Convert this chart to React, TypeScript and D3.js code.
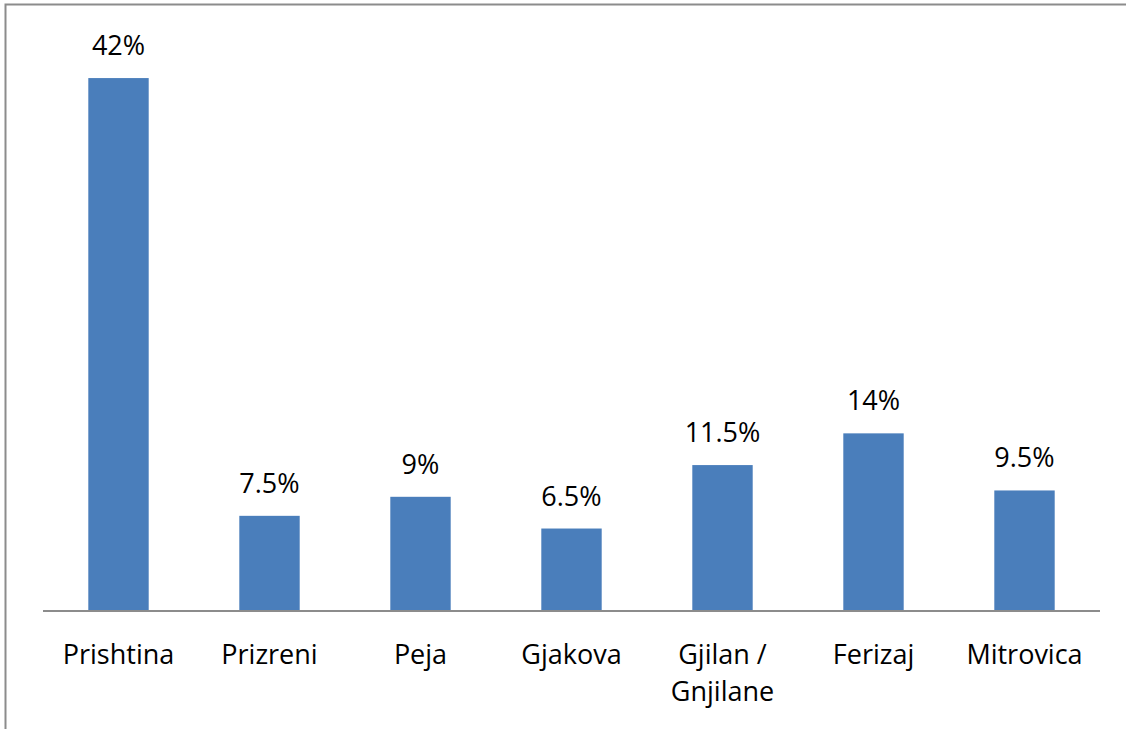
import React from "react";
import * as d3 from "d3";

const categories = ["Prishtina", "Prizreni", "Peja", "Gjakova", "Gjilan / Gnjilane", "Ferizaj", "Mitrovica"];
const values = [42, 7.5, 9, 6.5, 11.5, 14, 9.5];
const valueLabels = ["42%", "7.5%", "9%", "6.5%", "11.5%", "14%", "9.5%"];
const categoryLines = [["Prishtina"], ["Prizreni"], ["Peja"], ["Gjakova"], ["Gjilan /", "Gnjilane"], ["Ferizaj"], ["Mitrovica"]];

const W = 1126;
const H = 729;
const font = "'Open Sans', sans-serif";
const fs = 27;

export default function App() {
  const x = d3.scaleBand<string>().domain(categories).range([43, 1100]).paddingInner(0.6).paddingOuter(0.3);
  const y = d3.scaleLinear().domain([0, 45]).range([611, 40]);
  return (
    <div style={{ position: "fixed", left: 0, top: 0 }}>
      <svg width={W} height={H} style={{ display: "block", background: "#fff" }}>
        <path d={`M5.5,${H + 5} L5.5,4.5 L${W + 5},4.5`} fill="none" stroke="#8c8c8c" strokeWidth={2} />
        {categories.map((c, i) => {
          const bx = x(c)!;
          const by = y(values[i]);
          return (
            <g key={c}>
              <rect x={bx} y={by} width={x.bandwidth()} height={y(0) - by} fill="#4a7ebb" />
              <text x={bx + x.bandwidth() / 2} y={by - 23} textAnchor="middle" fontFamily={font} fontSize={fs} fill="#000">
                {valueLabels[i]}
              </text>
              {categoryLines[i].map((ln, j) => (
                <text key={j} x={bx + x.bandwidth() / 2} y={664 + j * 37} textAnchor="middle" fontFamily={font} fontSize={fs} fill="#000">
                  {ln}
                </text>
              ))}
            </g>
          );
        })}
        <line x1={43} x2={1100} y1={611} y2={611} stroke="#8c8c8c" strokeWidth={2} />
      </svg>
    </div>
  );
}
